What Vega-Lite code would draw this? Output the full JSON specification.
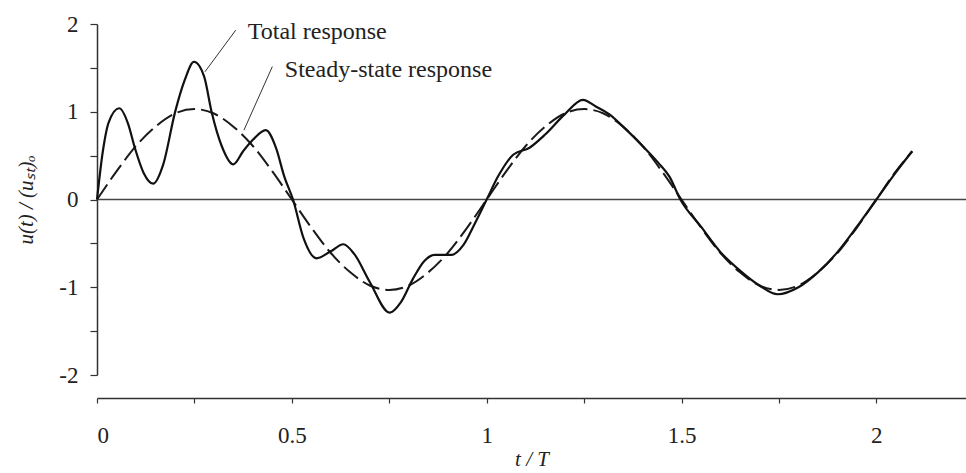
{
  "$schema": "https://vega.github.io/schema/vega-lite/v6.json",
  "width": 869,
  "height": 351,
  "autosize": {"type": "none"},
  "padding": {"left": 97, "top": 24, "right": 0, "bottom": 98},
  "background": "white",
  "config": {
    "view": {"stroke": null},
    "font": "Liberation Serif",
    "axis": {"labelFont": "Liberation Serif", "titleFont": "Liberation Serif", "grid": false, "domainColor": "#333", "tickColor": "#333", "labelColor": "#222", "titleColor": "#222", "domainWidth": 1.5, "tickWidth": 1.2}
  },
  "datasets": {
    "steady": [
      {"t": 0, "u": 0}, {"t": 0.05, "u": 0.32}, {"t": 0.1, "u": 0.61}, {"t": 0.15, "u": 0.83}, {"t": 0.2, "u": 0.98},
      {"t": 0.25, "u": 1.03}, {"t": 0.3, "u": 0.98}, {"t": 0.35, "u": 0.83}, {"t": 0.4, "u": 0.61}, {"t": 0.45, "u": 0.32},
      {"t": 0.5, "u": 0}, {"t": 0.55, "u": -0.32}, {"t": 0.6, "u": -0.61}, {"t": 0.65, "u": -0.83}, {"t": 0.7, "u": -0.98},
      {"t": 0.75, "u": -1.03}, {"t": 0.8, "u": -0.98}, {"t": 0.85, "u": -0.83}, {"t": 0.9, "u": -0.61}, {"t": 0.95, "u": -0.32},
      {"t": 1.0, "u": 0}, {"t": 1.05, "u": 0.32}, {"t": 1.1, "u": 0.61}, {"t": 1.15, "u": 0.83}, {"t": 1.2, "u": 0.98},
      {"t": 1.25, "u": 1.03}, {"t": 1.3, "u": 0.98}, {"t": 1.35, "u": 0.83}, {"t": 1.4, "u": 0.61}, {"t": 1.45, "u": 0.32},
      {"t": 1.5, "u": 0}, {"t": 1.55, "u": -0.32}, {"t": 1.6, "u": -0.61}, {"t": 1.65, "u": -0.83}, {"t": 1.7, "u": -0.98},
      {"t": 1.75, "u": -1.03}, {"t": 1.8, "u": -0.98}, {"t": 1.85, "u": -0.83}, {"t": 1.9, "u": -0.61}, {"t": 1.95, "u": -0.32},
      {"t": 2.0, "u": 0}, {"t": 2.05, "u": 0.32}, {"t": 2.092, "u": 0.55}
    ],
    "total": [
      {"t": 0, "u": 0}, {"t": 0.015, "u": 0.55}, {"t": 0.03, "u": 0.88}, {"t": 0.057, "u": 1.04}, {"t": 0.08, "u": 0.86},
      {"t": 0.097, "u": 0.59}, {"t": 0.12, "u": 0.3}, {"t": 0.144, "u": 0.18}, {"t": 0.17, "u": 0.4}, {"t": 0.2, "u": 0.99},
      {"t": 0.225, "u": 1.36}, {"t": 0.249, "u": 1.57}, {"t": 0.275, "u": 1.4}, {"t": 0.294, "u": 1.0}, {"t": 0.32, "u": 0.61},
      {"t": 0.35, "u": 0.4}, {"t": 0.375, "u": 0.55}, {"t": 0.4, "u": 0.68}, {"t": 0.433, "u": 0.79}, {"t": 0.46, "u": 0.58},
      {"t": 0.48, "u": 0.27}, {"t": 0.503, "u": 0.0}, {"t": 0.53, "u": -0.44}, {"t": 0.563, "u": -0.67}, {"t": 0.6, "u": -0.59},
      {"t": 0.632, "u": -0.51}, {"t": 0.66, "u": -0.62}, {"t": 0.7, "u": -0.94}, {"t": 0.751, "u": -1.29}, {"t": 0.78, "u": -1.17},
      {"t": 0.81, "u": -0.91}, {"t": 0.84, "u": -0.7}, {"t": 0.867, "u": -0.63}, {"t": 0.91, "u": -0.63}, {"t": 0.94, "u": -0.52},
      {"t": 0.97, "u": -0.27}, {"t": 1.0, "u": 0.0}, {"t": 1.03, "u": 0.27}, {"t": 1.068, "u": 0.51}, {"t": 1.11, "u": 0.59},
      {"t": 1.15, "u": 0.74}, {"t": 1.2, "u": 0.97}, {"t": 1.247, "u": 1.135}, {"t": 1.28, "u": 1.06}, {"t": 1.315, "u": 0.97},
      {"t": 1.35, "u": 0.83}, {"t": 1.4, "u": 0.61}, {"t": 1.44, "u": 0.42}, {"t": 1.469, "u": 0.26}, {"t": 1.497, "u": 0.0},
      {"t": 1.55, "u": -0.31}, {"t": 1.6, "u": -0.6}, {"t": 1.65, "u": -0.81}, {"t": 1.7, "u": -0.98}, {"t": 1.747, "u": -1.08},
      {"t": 1.8, "u": -1.0}, {"t": 1.85, "u": -0.83}, {"t": 1.9, "u": -0.6}, {"t": 1.95, "u": -0.31}, {"t": 2.0, "u": 0.0},
      {"t": 2.05, "u": 0.31}, {"t": 2.092, "u": 0.55}
    ],
    "zero": [{"t": 0, "u": 0}, {"t": 2.23, "u": 0}],
    "leaders": [
      {"t": 0.356, "u": 1.93, "t2": 0.277, "u2": 1.455},
      {"t": 0.45, "u": 1.515, "t2": 0.377, "u2": 0.79}
    ],
    "labels": [
      {"t": 0.387, "u": 1.91, "label": "Total response"},
      {"t": 0.482, "u": 1.48, "label": "Steady-state response"}
    ]
  },
  "encoding": {
    "x": {
      "field": "t", "type": "quantitative",
      "scale": {"domain": [0, 2.23], "nice": false, "zero": false},
      "axis": {
        "values": [0, 0.25, 0.5, 0.75, 1, 1.25, 1.5, 1.75, 2],
        "labelExpr": "datum.value % 0.5 == 0 ? '' + datum.value : ''",
        "offset": 23, "tickSize": 5, "labelPadding": 21, "labelFontSize": 23,
        "title": "t / T", "titleFontSize": 21, "titleFontStyle": "italic", "titleFontWeight": "normal", "titlePadding": 1
      }
    },
    "y": {
      "field": "u", "type": "quantitative",
      "scale": {"domain": [-2, 2], "nice": false},
      "axis": {
        "values": [-2, -1.5, -1, -0.5, 0, 0.5, 1, 1.5, 2],
        "labelExpr": "datum.value % 1 == 0 ? '' + datum.value : ''",
        "tickSize": 7, "labelPadding": 12, "labelFontSize": 23,
        "title": "u(t) / (uₛₜ)ₒ", "titleFontSize": 21, "titleFontStyle": "italic", "titleFontWeight": "normal", "titlePadding": 22
      }
    }
  },
  "layer": [
    {"data": {"name": "zero"}, "mark": {"type": "line", "color": "#444", "strokeWidth": 1.6}},
    {"data": {"name": "steady"}, "mark": {"type": "line", "color": "#1a1a1a", "strokeWidth": 2, "strokeDash": [18, 6], "interpolate": "monotone"}},
    {"data": {"name": "total"}, "mark": {"type": "line", "color": "#111", "strokeWidth": 2.2, "interpolate": "monotone"}},
    {"data": {"name": "leaders"}, "mark": {"type": "rule", "color": "#333", "strokeWidth": 1},
     "encoding": {"x2": {"field": "t2"}, "y2": {"field": "u2"}}},
    {"data": {"name": "labels"}, "mark": {"type": "text", "align": "left", "baseline": "middle", "fontSize": 24, "font": "Liberation Serif", "color": "#222"},
     "encoding": {"text": {"field": "label"}}}
  ]
}
